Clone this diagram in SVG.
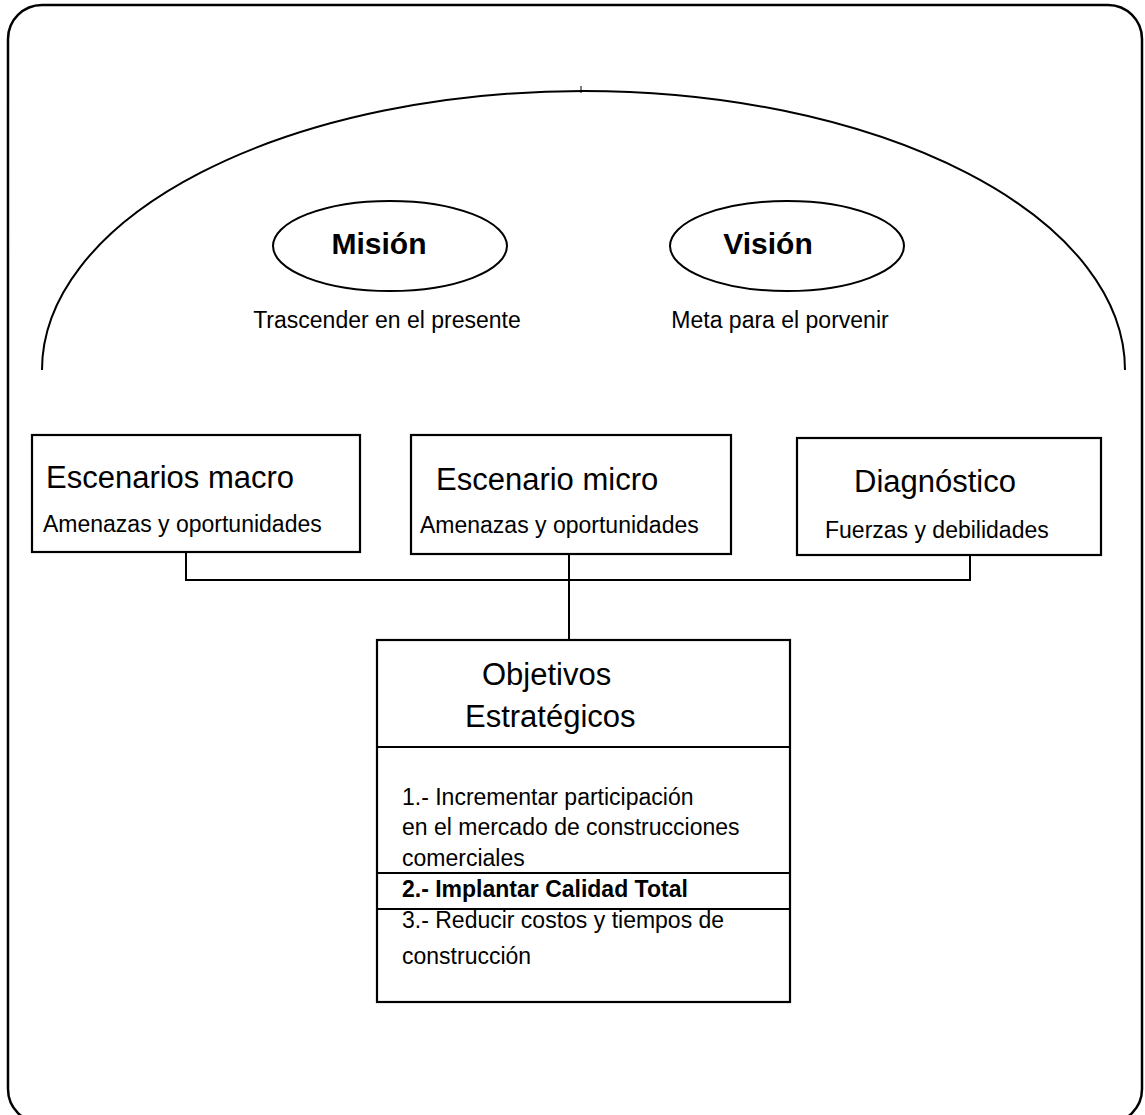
<svg xmlns="http://www.w3.org/2000/svg" width="1145" height="1115" viewBox="0 0 1145 1115">
<style>
.ln{fill:none;stroke:#000;stroke-width:2}
.bx{fill:#fff;stroke:#000;stroke-width:2.2}
.t{font-family:"Liberation Sans",Arial,sans-serif;fill:#000}
.h{font-size:31px}
.s{font-size:23px}
.b{font-weight:bold}
</style>
<rect width="1145" height="1115" fill="#fff"/>
<g id="frame">
<rect x="8" y="5" width="1134" height="1118" rx="34" ry="34" fill="none" stroke="#000" stroke-width="2.5"/>
<path class="ln" d="M 42 370 A 541.5 279 0 0 1 1125 370"/>
<line x1="581" y1="86" x2="581" y2="93" stroke="#000" stroke-width="1"/>
</g>
<g id="mision">
<ellipse cx="390" cy="246" rx="117" ry="45" class="ln"/>
<text x="379" y="254" text-anchor="middle" class="t b" font-size="30">Misión</text>
<text x="387" y="328" text-anchor="middle" class="t s">Trascender en el presente</text>
</g>
<g id="vision">
<ellipse cx="787" cy="246" rx="117" ry="45" class="ln"/>
<text x="768" y="254" text-anchor="middle" class="t b" font-size="30">Visión</text>
<text x="780" y="328" text-anchor="middle" class="t s">Meta para el porvenir</text>
</g>
<g id="connectors">
<polyline class="ln" points="186,552 186,580 970,580 970,555"/>
<line class="ln" x1="569" y1="554" x2="569" y2="640"/>
</g>
<g id="macro">
<rect class="bx" x="32" y="435" width="328" height="117"/>
<text x="46" y="488" class="t h">Escenarios macro</text>
<text x="43" y="532" class="t s">Amenazas y oportunidades</text>
</g>
<g id="micro">
<rect class="bx" x="411" y="435" width="320" height="119"/>
<text x="436" y="490" class="t h">Escenario micro</text>
<text x="420" y="533" class="t s">Amenazas y oportunidades</text>
</g>
<g id="diagnostico">
<rect class="bx" x="797" y="438" width="304" height="117"/>
<text x="854" y="492" class="t h">Diagnóstico</text>
<text x="825" y="538" class="t s">Fuerzas y debilidades</text>
</g>
<g id="objetivos">
<rect class="bx" x="377" y="640" width="413" height="362"/>
<line class="ln" x1="377" y1="747" x2="790" y2="747"/>
<rect class="ln" x="377" y="873" width="413" height="36"/>
<text x="482" y="685" class="t h">Objetivos</text>
<text x="465" y="727" class="t h">Estratégicos</text>
<text x="402" y="805" class="t s">1.- Incrementar participación</text>
<text x="402" y="835" class="t s">en el mercado de construcciones</text>
<text x="402" y="866" class="t s">comerciales</text>
<text x="402" y="897" class="t s b">2.- Implantar Calidad Total</text>
<text x="402" y="928" class="t s">3.- Reducir costos y tiempos de</text>
<text x="402" y="964" class="t s">construcción</text>
</g>
</svg>
